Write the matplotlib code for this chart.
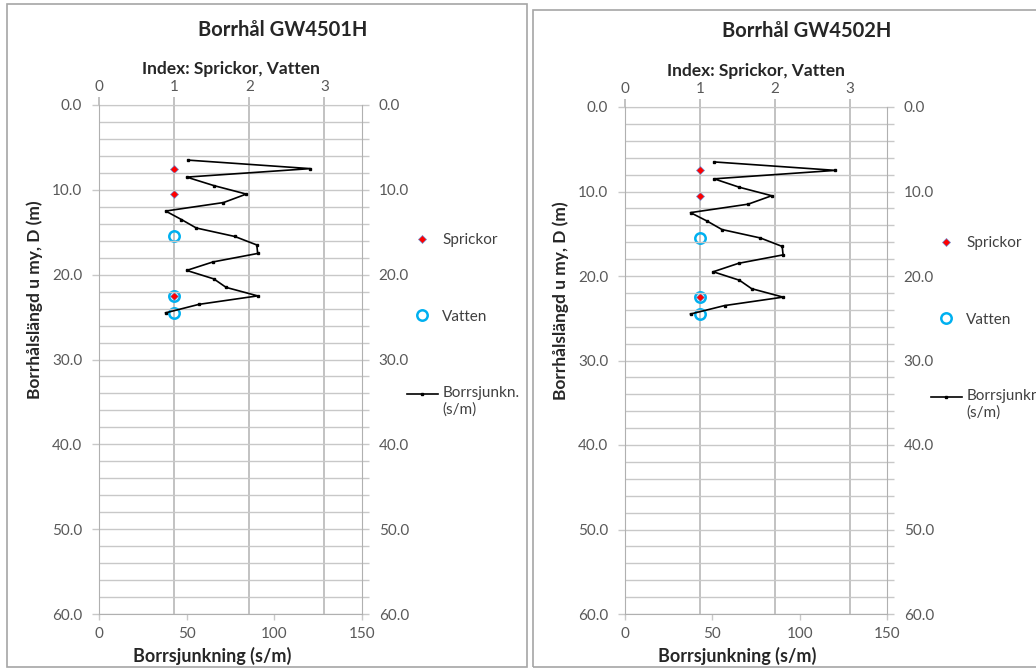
import matplotlib
matplotlib.use("Agg")
import matplotlib.pyplot as plt
from matplotlib.patches import Rectangle
from matplotlib.ticker import MultipleLocator, FormatStrFormatter
from matplotlib.legend_handler import HandlerLine2D

plt.rcParams['font.family'] = ['Lato', 'DejaVu Sans']

# ---------------- data ----------------
titles = ["Borrhål GW4501H", "Borrhål GW4502H"]

depth_1 = [6.5, 7.5, 8.5, 9.5, 10.5, 11.5, 12.5, 13.5, 14.5, 15.5,
           16.5, 17.5, 18.5, 19.5, 20.5, 21.5, 22.5, 23.5, 24.5]
borrsj_1 = [51, 120.5, 50, 65.5, 84, 71, 38, 47, 55.5, 77.5,
            90, 90.5, 65, 50, 65.5, 72.5, 90.5, 57, 38]
sprickor_depth_1 = [7.5, 10.5, 22.5]
sprickor_index_1 = [1, 1, 1]
vatten_depth_1 = [15.5, 22.5, 24.5]
vatten_index_1 = [1, 1, 1]

depth_2 = [6.5, 7.5, 8.5, 9.5, 10.5, 11.5, 12.5, 13.5, 14.5, 15.5,
           16.5, 17.5, 18.5, 19.5, 20.5, 21.5, 22.5, 23.5, 24.5]
borrsj_2 = [51, 120.5, 51, 65.5, 84, 70.5, 37.5, 47, 55.5, 77.5,
            90, 90.5, 65, 50.5, 65.5, 72.5, 90.5, 57, 37.5]
sprickor_depth_2 = [7.5, 10.5, 22.5]
sprickor_index_2 = [1, 1, 1]
vatten_depth_2 = [15.5, 22.5, 24.5]
vatten_index_2 = [1, 1, 1]

bottom_ticks = [0, 50, 100, 150]
top_ticks = [0, 1, 2, 3]

datasets = [
    (depth_1, borrsj_1, sprickor_depth_1, sprickor_index_1, vatten_depth_1, vatten_index_1),
    (depth_2, borrsj_2, sprickor_depth_2, sprickor_index_2, vatten_depth_2, vatten_index_2),
]


class RaisedLineHandler(HandlerLine2D):
    """Legend handler that aligns the line with the first text line."""
    def __init__(self, raise_pt=5.5, **kw):
        super().__init__(**kw)
        self.raise_pt = raise_pt

    def create_artists(self, legend, orig_handle, xdescent, ydescent,
                       width, height, fontsize, trans):
        return super().create_artists(legend, orig_handle, xdescent,
                                      ydescent - 2 * self.raise_pt,
                                      width, height, fontsize, trans)


# ---------------- layout ----------------
W, H = 1036, 669
fig = plt.figure(figsize=(W / 100, H / 100), dpi=100)

def fx(px):
    return px / W

def fy(py):
    return 1 - py / H

panels = [
    dict(box=(7, 4, 527, 667), ax=(99, 105, 362, 614), title=(283, 30),
         leg=(407, 233)),
    dict(box=(533, 10, 1045, 667), ax=(625, 107, 887, 614), title=(807, 31),
         leg=(931, 236)),
]

GRID = '#c8c8c8'
VGRID = '#bdbdbd'
SPINE = '#b0b0b0'
TXT = '#595959'
LBL = 12.5

for i, (p, d) in enumerate(zip(panels, datasets)):
    dep, bs, sd, si, vd, vi = d
    bx0, by0, bx1, by1 = p['box']
    fig.add_artist(Rectangle((fx(bx0), fy(by1)), fx(bx1 - bx0), (by1 - by0) / H,
                             transform=fig.transFigure, fill=False,
                             edgecolor='#a6a6a6', linewidth=1.2))
    x0, y0, x1, y1 = p['ax']
    rect = [fx(x0), fy(y1), fx(x1 - x0), (y1 - y0) / H]

    ax = fig.add_axes(rect)           # bottom axis: Borrsjunkning
    axt = ax.twiny()                  # top axis: index
    axt.set_zorder(0)
    ax.set_zorder(1)
    ax.patch.set_visible(False)

    # index axis (top)
    axt.set_xlim(0, 3.5)
    axt.set_xticks(top_ticks)
    axt.xaxis.grid(True, color=VGRID, linewidth=1.3)
    axt.tick_params(axis='x', direction='out', length=6, width=1.3, color=VGRID,
                    labelsize=11, labelcolor=TXT, pad=2)
    axt.set_xlabel("Index: Sprickor, Vatten", fontsize=LBL, fontweight='bold',
                   color='#262626', labelpad=4)
    for s in axt.spines.values():
        s.set_visible(False)
    axt.spines['top'].set_visible(True)
    axt.spines['top'].set_color(SPINE)

    hv, = axt.plot(vi, vd, linestyle='none', marker='o', markersize=7.5,
                   markerfacecolor='none', markeredgecolor='#00b0f0',
                   markeredgewidth=1.8, label='Vatten', zorder=3)
    hs, = axt.plot(si, sd, linestyle='none', marker='D', markersize=4.5,
                   markerfacecolor='#ff0000', markeredgecolor='#6f8fd0',
                   markeredgewidth=0.5, label='Sprickor', zorder=4)

    # depth / Borrsjunkning axis
    hl, = ax.plot(bs, dep, color='black', linewidth=1.2, marker='s',
                  markersize=2, label='Borrsjunkn.\n(s/m)', zorder=5)
    ax.set_xlim(0, 150)
    ax.set_xticks(bottom_ticks)
    ax.set_ylim(60, 0)
    axt.set_ylim(60, 0)
    ax.yaxis.set_major_locator(MultipleLocator(10))
    ax.yaxis.set_minor_locator(MultipleLocator(2))
    ax.yaxis.set_major_formatter(FormatStrFormatter('%.1f'))
    ax.yaxis.grid(True, which='both', color=GRID, linewidth=1.0)
    ax.tick_params(axis='y', which='major', left=True, right=True,
                   labelleft=True, labelright=True, direction='out',
                   length=5, width=1.0, color=GRID, labelsize=11,
                   labelcolor=TXT, pad=7)
    ax.tick_params(axis='y', which='minor', left=False, right=True,
                   direction='out', length=5, width=1.0, color=GRID)
    ax.tick_params(axis='x', direction='out', length=4, width=1.0, color=GRID,
                   labelsize=11, labelcolor=TXT, pad=5)
    for s in ax.spines.values():
        s.set_color(SPINE)
    ax.spines['top'].set_visible(False)
    ax.set_xlabel("Borrsjunkning (s/m)", fontsize=13, fontweight='bold',
                  color='#262626')
    ax.xaxis.set_label_coords(0.43, -0.065)
    ax.set_ylabel("Borrhålslängd u my, D (m)", fontsize=LBL, fontweight='bold',
                  color='#262626')
    ax.yaxis.set_label_coords(-0.213, 0.617)

    fig.text(fx(p['title'][0]), fy(p['title'][1]), titles[i], ha='center',
             va='center', fontsize=14.5, fontweight='bold', color='#262626')

    lx, ly = p['leg']
    ax.legend([hs, hv, hl], ['Sprickor', 'Vatten', 'Borrsjunkn.\n(s/m)'],
              loc='upper left', bbox_to_anchor=(fx(lx), fy(ly)),
              bbox_transform=fig.transFigure, frameon=False, fontsize=11,
              labelcolor='#404040', handlelength=2.0, handletextpad=0.3,
              borderpad=0, borderaxespad=0, labelspacing=4.1, numpoints=1,
              handler_map={hl: RaisedLineHandler(raise_pt=5.5)})

fig.savefig('out.png', dpi=100)
